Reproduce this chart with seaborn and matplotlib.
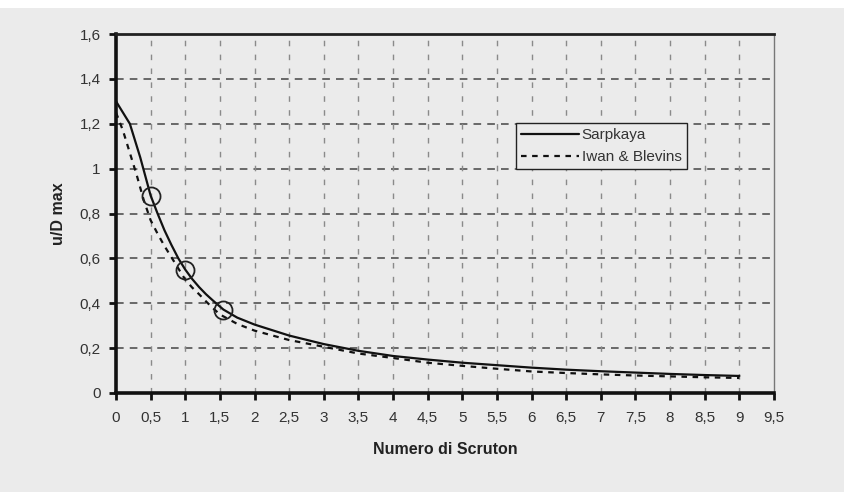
import numpy as np
import pandas as pd
import matplotlib
matplotlib.use("Agg")
import matplotlib.pyplot as plt
import seaborn as sns
from matplotlib.patches import Rectangle

# ---- data ----
sarp_x = [0, 0.2, 0.35, 0.5, 0.6, 0.7, 0.8, 0.9, 1.0, 1.1, 1.2, 1.3, 1.4, 1.55, 1.75,
          2.0, 2.5, 3.0, 3.5, 4.0, 4.5, 5.0, 5.5, 6.0, 6.5, 7.0, 7.5, 8.0, 8.5, 9.0]
sarp_y = [1.30, 1.20, 1.05, 0.88, 0.80, 0.725, 0.66, 0.60, 0.55, 0.508, 0.472, 0.44,
          0.412, 0.372, 0.336, 0.305, 0.256, 0.218, 0.188, 0.165, 0.149, 0.135, 0.124,
          0.113, 0.104, 0.097, 0.091, 0.085, 0.080, 0.076]
iwan_x = [0, 0.1, 0.2, 0.3, 0.4, 0.5, 0.6, 0.7, 0.85, 1.0, 1.1, 1.2, 1.3, 1.4, 1.5,
          1.75, 2.0, 2.5, 3.0, 3.5, 4.0, 4.5, 5.0, 5.5, 6.0, 6.5, 7.0, 7.5, 8.0, 8.5, 9.0]
iwan_y = [1.25, 1.17, 1.07, 0.97, 0.86, 0.77, 0.71, 0.655, 0.58, 0.505, 0.47, 0.44,
          0.408, 0.378, 0.35, 0.308, 0.278, 0.236, 0.206, 0.176, 0.156, 0.135, 0.121,
          0.108, 0.096, 0.089, 0.083, 0.078, 0.074, 0.070, 0.067]
circle_x = [0.5, 1.0, 1.55]
circle_y = [0.88, 0.55, 0.37]

x_ticks = [0, 0.5, 1, 1.5, 2, 2.5, 3, 3.5, 4, 4.5, 5, 5.5, 6, 6.5, 7, 7.5, 8, 8.5, 9, 9.5]
x_tick_labels = ["0", "0,5", "1", "1,5", "2", "2,5", "3", "3,5", "4", "4,5", "5",
                 "5,5", "6", "6,5", "7", "7,5", "8", "8,5", "9", "9,5"]
y_ticks = [0, 0.2, 0.4, 0.6, 0.8, 1.0, 1.2, 1.4, 1.6]
y_tick_labels = ["0", "0,2", "0,4", "0,6", "0,8", "1", "1,2", "1,4", "1,6"]

series_names = ["Sarpkaya", "Iwan & Blevins"]
x_label = "Numero di Scruton"
y_label = "u/D max"

# ---- styling ----
sns.set_style("white")
plt.rcParams['font.family'] = ['Liberation Sans', 'DejaVu Sans']

bg = "#ebebeb"
fig = plt.figure(figsize=(8.44, 4.92), dpi=100, facecolor=bg)
ax = fig.add_axes([116 / 844, 1 - 393 / 492, (774 - 116) / 844, (393 - 34) / 492])
ax.set_facecolor(bg)
fig.patches.append(Rectangle((0, 1 - 8 / 492), 1, 8 / 492, transform=fig.transFigure,
                             facecolor="white", edgecolor="none", zorder=0))

df_s = pd.DataFrame({"x": sarp_x, "y": sarp_y})
df_i = pd.DataFrame({"x": iwan_x, "y": iwan_y})
sns.lineplot(data=df_s, x="x", y="y", ax=ax, color="#111111", lw=1.6,
             label=series_names[0], zorder=4)
sns.lineplot(data=df_i, x="x", y="y", ax=ax, color="#111111", lw=1.6,
             dashes=False, linestyle=(0, (2.5, 2.5)), label=series_names[1], zorder=4)
ax.plot(circle_x, circle_y, linestyle="none", marker="o", ms=13, mfc="none",
        mec="#222222", mew=1.3, zorder=5)

ax.set_xlim(0, 9.5)
ax.set_ylim(0, 1.6)
ax.set_xticks(x_ticks)
ax.set_xticklabels(x_tick_labels)
ax.set_yticks(y_ticks)
ax.set_yticklabels(y_tick_labels)
ax.tick_params(axis="both", which="both", direction="out", length=5, width=2,
               color="#111111", labelsize=11, labelcolor="#333333", pad=6)
ax.tick_params(axis="x", pad=8)
ax.tick_params(left=True, bottom=True)

for y in y_ticks[1:-1]:
    ax.axhline(y, color="#444444", lw=1.1, linestyle=(0, (5, 4)), zorder=1)
for x in x_ticks[1:-1]:
    ax.axvline(x, color="#8a8a8a", lw=1.0, linestyle=(0, (4, 6)), zorder=1)

for side in ["left", "bottom"]:
    ax.spines[side].set_linewidth(2.6)
    ax.spines[side].set_color("#111111")
ax.spines["top"].set_linewidth(2.0)
ax.spines["top"].set_color("#222222")
ax.spines["right"].set_linewidth(1.0)
ax.spines["right"].set_color("#777777")
for s in ax.spines.values():
    s.set_visible(True)

ax.set_xlabel(x_label, fontsize=11.5, fontweight="bold", color="#222222", labelpad=12)
ax.set_ylabel(y_label, fontsize=11.5, fontweight="bold", color="#222222", labelpad=10)

leg = ax.legend(loc="upper left", bbox_to_anchor=(0.608, 0.752), borderaxespad=0,
                frameon=True, fancybox=False, fontsize=11, handlelength=3.8,
                handletextpad=0.15, borderpad=0.35, labelspacing=0.5)
leg.get_frame().set_edgecolor("#222222")
leg.get_frame().set_facecolor(bg)
leg.get_frame().set_linewidth(1.0)
leg.get_frame().set_alpha(1)
for t in leg.get_texts():
    t.set_color("#333333")

fig.savefig("out.png", dpi=100, facecolor=bg)
